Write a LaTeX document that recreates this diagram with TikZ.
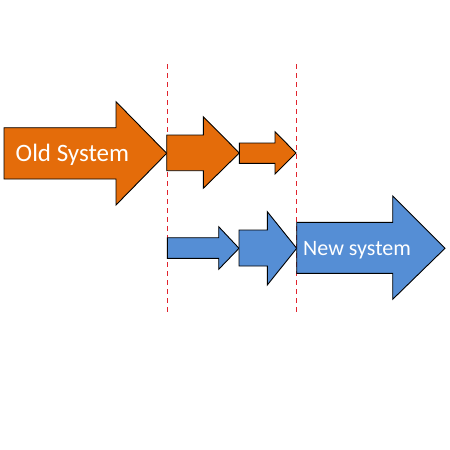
\documentclass[tikz,border=0pt]{standalone}
\usepackage{fontspec}
\setmainfont{Carlito}
\definecolor{oldorange}{RGB}{228,108,10}
\definecolor{newblue}{RGB}{85,142,213}
\definecolor{guidered}{RGB}{225,35,45}
\begin{document}
\begin{tikzpicture}[x=1pt,y=-1pt,
  oldarrow/.style={fill=oldorange,draw=black,line width=0.9pt,line join=miter},
  newarrow/.style={fill=newblue,draw=black,line width=0.9pt,line join=miter},
  guide/.style={draw=guidered,line width=1.3pt,dash pattern=on 5pt off 4pt},
  label/.style={text=white,inner sep=0pt,anchor=base west}]
\useasboundingbox (0,0) rectangle (450,450);
% guides
\draw[guide] (167.8,64) -- (167.8,312);
\draw[guide] (296.2,64) -- (296.2,312);
% orange arrows
\draw[oldarrow] (4,127.7) -- (116,127.7) -- (116,101.7) -- (166.7,153.3) -- (116,205) -- (116,179) -- (4,179) -- cycle;
\draw[oldarrow] (166.7,135) -- (203.3,135) -- (203.3,116.7) -- (239.3,153) -- (203.3,188.3) -- (203.3,170.7) -- (166.7,170.7) -- cycle;
\draw[oldarrow] (239.3,143) -- (275,143) -- (275,131.7) -- (296,153) -- (275,174) -- (275,163.3) -- (239.3,163.3) -- cycle;
% blue arrows
\draw[newarrow] (167.3,237.7) -- (218.7,237.7) -- (218.7,226.7) -- (239,248.3) -- (218.7,269.3) -- (218.7,258.3) -- (167.3,258.3) -- cycle;
\draw[newarrow] (239,230) -- (267.3,230) -- (267.3,211.7) -- (296.7,248.3) -- (267.3,285) -- (267.3,266) -- (239,266) -- cycle;
\draw[newarrow] (296.7,222.3) -- (392.7,222.3) -- (392.7,196) -- (445,248.3) -- (392.7,299.3) -- (392.7,273.3) -- (296.7,273.3) -- cycle;
% labels
\node[label,font=\fontsize{25}{29}\selectfont] (old) at (15.5,161.7) {Old System};
\node[label,font=\fontsize{22}{26}\selectfont] (new) at (303,255.7) {New system};
\end{tikzpicture}
\end{document}
